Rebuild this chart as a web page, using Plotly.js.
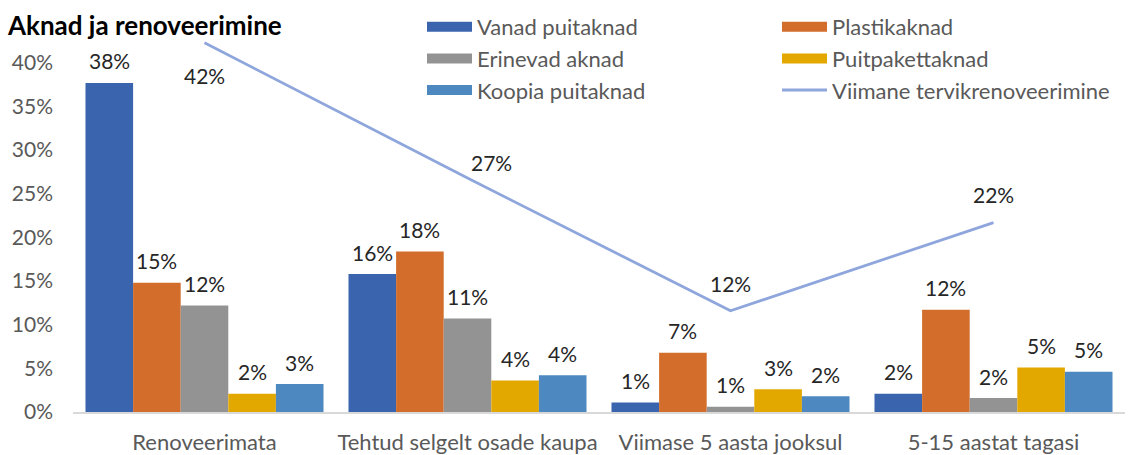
<!DOCTYPE html>
<html>
<head>
<meta charset="utf-8">
<script src="https://cdn.plot.ly/plotly-3.0.1.min.js"></script>
<style>html,body{margin:0;padding:0;background:#fff;}#chart{width:1128px;height:455px;}</style>
</head>
<body>
<div id="chart"></div>
<script>
const categories = ['Renoveerimata', 'Tehtud selgelt osade kaupa', 'Viimase 5 aasta jooksul', '5-15 aastat tagasi'];
const seriesNames = ['Vanad puitaknad', 'Plastikaknad', 'Erinevad aknad', 'Puitpakettaknad', 'Koopia puitaknad'];
const vanadPuitaknad = [37.7, 15.8, 1.1, 2.1];
const plastikaknad = [14.8, 18.4, 6.8, 11.7];
const erinevadAknad = [12.2, 10.7, 0.6, 1.6];
const puitpakettaknad = [2.1, 3.6, 2.6, 5.1];
const koopiaPuitaknad = [3.2, 4.2, 1.8, 4.6];
const lineName = 'Viimane tervikrenoveerimine';
const viimaneTervik = [42.3, 26.8, 11.6, 21.7];
const yTickVals = [0, 5, 10, 15, 20, 25, 30, 35, 40];

const barSeries = [vanadPuitaknad, plastikaknad, erinevadAknad, puitpakettaknad, koopiaPuitaknad];
const colors = ['#3B64AE', '#D36D2B', '#939393', '#E3A800', '#4D88C0'];
const legendOf = ['legend', 'legend2', 'legend', 'legend2', 'legend'];
const lineColor = '#8EA6DC';

const W = 1128, H = 455;
const M = {l: 73, r: 3, t: 41, b: 43};
const plotW = W - M.l - M.r, plotH = H - M.t - M.b;
const bargap = 0.095;
const catPx = plotW / categories.length;
const barPx = catPx * (1 - bargap) / barSeries.length;

const font = 'Lato, "Open Sans", sans-serif';
const numSize = 21, txtSize = 22;
const traces = [];
const annotations = [];

barSeries.forEach((vals, i) => {
  traces.push({
    type: 'bar', x: categories, y: vals, name: seriesNames[i],
    marker: {color: colors[i]}, showlegend: false,
    hoverinfo: 'y+name'
  });
  vals.forEach((v, j) => {
    annotations.push({
      x: categories[j], y: v, xref: 'x', yref: 'y',
      xshift: (i - (barSeries.length - 1) / 2) * barPx, yshift: 22,
      text: Math.round(v) + '%', showarrow: false,
      xanchor: 'center', yanchor: 'middle',
      font: {family: font, size: numSize, color: '#262626'}
    });
  });
});

// legend entries with wide swatches (no data of their own)
barSeries.forEach((vals, i) => {
  traces.push({
    type: 'scatter', mode: 'lines', x: [null], y: [null], name: seriesNames[i],
    line: {color: colors[i], width: 12}, hoverinfo: 'skip', legend: legendOf[i]
  });
});

traces.push({
  type: 'scatter', mode: 'lines', x: categories, y: viimaneTervik, name: lineName,
  line: {color: lineColor, width: 2.8}, cliponaxis: false, legend: 'legend2'
});
const lineShift = [[0, -33], [24, 16], [0, 27], [0, 28]];
viimaneTervik.forEach((v, j) => {
  annotations.push({
    x: categories[j], y: v, xref: 'x', yref: 'y',
    xshift: lineShift[j][0], yshift: lineShift[j][1],
    text: Math.round(v) + '%', showarrow: false,
    xanchor: 'center', yanchor: 'middle',
    font: {family: font, size: numSize, color: '#262626'}
  });
});

const legendBase = {
  orientation: 'v', xanchor: 'left',
  y: 1 + 35 / plotH, yanchor: 'top', traceorder: 'normal',
  font: {family: font, size: txtSize, color: '#595959'},
  itemwidth: 45, bgcolor: 'rgba(0,0,0,0)'
};

const layout = {
  width: W, height: H,
  margin: M,
  paper_bgcolor: '#fff', plot_bgcolor: '#fff',
  font: {family: font, size: txtSize, color: '#595959'},
  title: {
    text: '<b>Aknad ja renoveerimine</b>',
    xref: 'container', yref: 'container', x: 8 / W, xanchor: 'left',
    y: 1 - 26 / H, yanchor: 'middle', automargin: false,
    font: {family: font, size: 26, color: '#000'}
  },
  barmode: 'group', bargap: bargap, bargroupgap: 0,
  xaxis: {
    type: 'category', showgrid: false, zeroline: false, automargin: false,
    showline: true, linecolor: '#D9D9D9', linewidth: 1.5,
    ticks: '', ticklabelstandoff: 10, tickangle: 0,
    tickfont: {family: font, size: txtSize, color: '#595959'}
  },
  yaxis: {
    range: [0, 42.5], tickvals: yTickVals, ticktext: yTickVals.map(v => v + '%'),
    showgrid: false, zeroline: false, showline: false, ticks: '', automargin: false,
    ticklabelstandoff: 19,
    tickfont: {family: font, size: numSize, color: '#595959'}
  },
  legend: Object.assign({}, legendBase, {x: (422 - M.l) / plotW}),
  legend2: Object.assign({}, legendBase, {x: (777 - M.l) / plotW}),
  annotations: annotations,
  showlegend: true
};

Plotly.newPlot('chart', traces, layout, {displayModeBar: false, responsive: false});
</script>
</body>
</html>
